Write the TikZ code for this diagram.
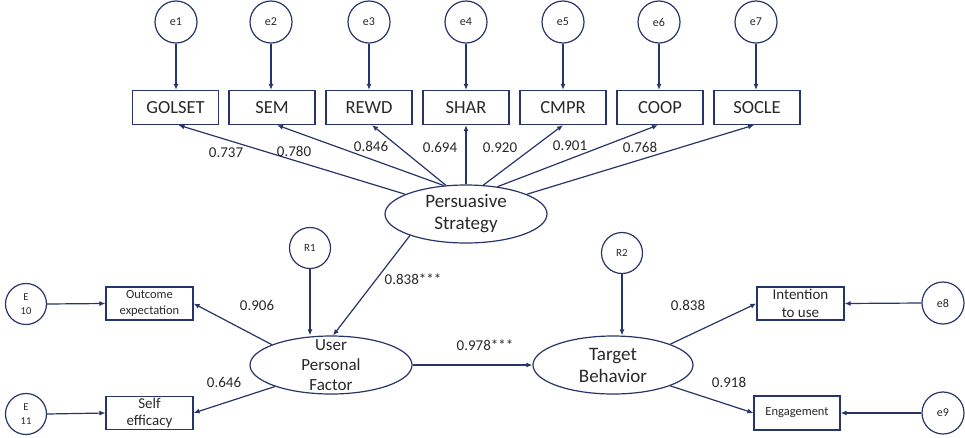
\documentclass[tikz,border=0pt]{standalone}
\usepackage{fontspec}
\setmainfont{Carlito}
\usetikzlibrary{arrows.meta,shapes.geometric}
\definecolor{navy}{RGB}{38,52,105}
\definecolor{txt}{RGB}{40,40,40}
\begin{document}
\begin{tikzpicture}[x=1pt,y=-1pt,
  errc/.style={circle, draw=navy, line width=1.2pt, minimum size=42pt, inner sep=0pt, text=txt, font=\fontsize{12}{14}\selectfont},
  smallc/.style={circle, draw=navy, line width=1.2pt, minimum size=41pt, inner sep=0pt, text=txt, align=center, font=\fontsize{10.5}{14}\selectfont},
  obs/.style={rectangle, draw=navy, line width=1.2pt, minimum width=86pt, minimum height=34pt, inner sep=0pt, text=txt, font=\fontsize{18.5}{20}\selectfont},
  obss/.style={rectangle, draw=navy, line width=1.2pt, minimum width=87pt, minimum height=33pt, inner sep=0pt, text=txt, align=center},
  lat/.style={ellipse, draw=navy, line width=1.2pt, minimum width=162pt, minimum height=58pt, inner sep=0pt},
  lattext/.style={align=center, text=txt, inner sep=0pt},
  arr/.style={-{Latex[length=6pt,width=5pt]}, draw=navy, line width=1.2pt},
  coef/.style={font=\fontsize{15}{17}\selectfont, text=txt, inner sep=0pt}]
\useasboundingbox (0,0) rectangle (965,437);
% top error circles
\node[errc] (e1) at (176,22) {e1};
\node[errc] (e2) at (271,22) {e2};
\node[errc] (e3) at (369,22) {e3};
\node[errc] (e4) at (466,22) {e4};
\node[errc] (e5) at (563,22) {e5};
\node[errc] (e6) at (659,22) {e6};
\node[errc] (e7) at (756,22) {e7};
% observed boxes
\node[obs] (golset) at (175.5,107.5) {GOLSET};
\node[obs] (sem) at (272,107.5) {SEM};
\node[obs] (rewd) at (369,107.5) {REWD};
\node[obs] (shar) at (466,107.5) {SHAR};
\node[obs] (cmpr) at (563,107.5) {CMPR};
\node[obs] (coop) at (660,107.5) {COOP};
\node[obs] (socle) at (757,107.5) {SOCLE};
\foreach \e/\b in {e1/golset,e2/sem,e3/rewd,e4/shar,e5/cmpr,e6/coop,e7/socle}
  \draw[arr] (\e.south) -- (\e.south |- \b.north);
% persuasive strategy
\node[lat] (psy) at (466,214) {};
\node[lattext, font=\fontsize{19}{22}\selectfont] (psyt) at (psy) {Persuasive\\Strategy};
\draw[arr] (psy.162) -- ([xshift=3pt]golset.south);
\draw[arr] (psy.128) -- ([xshift=5pt]sem.south);
\draw[arr] (psy.125) -- ([xshift=3pt]rewd.south);
\draw[arr] (psy.90) -- (shar.south);
\draw[arr] (psy.59) -- (cmpr.south);
\draw[arr] (psy.41) -- ([xshift=-2pt]coop.south);
\draw[arr] (psy.18) -- ([xshift=-3pt]socle.south);
\node[coef] (c1) at (226,153) {0.737};
\node[coef] (c2) at (294,151) {0.780};
\node[coef] (c3) at (371,146) {0.846};
\node[coef] (c4) at (440,147) {0.694};
\node[coef] (c5) at (500,148) {0.920};
\node[coef] (c6) at (570,146) {0.901};
\node[coef] (c7) at (640,147) {0.768};
% user personal factor
\node[lat] (upf) at (331,365) {};
\node[lattext, font=\fontsize{17}{20}\selectfont] (upft) at (upf) {User\\Personal\\Factor};
\node[smallc, font=\fontsize{11}{13}\selectfont] (r1) at (310,248) {R1};
\draw[arr] (r1.south) -- (r1.south |- upf.north);
\draw[arr] (psy.201) -- (upf.86);
\node[coef] (c8) at (413,279) {0.838***};
% outcome / self efficacy
\node[obss, font=\fontsize{12.5}{16}\selectfont] (oe) at (149.5,303.5) {Outcome\\expectation};
\node[obss, font=\fontsize{15}{17}\selectfont] (se) at (149.5,413) {Self\\efficacy};
\node[smallc] (e10) at (26,304) {E\\10};
\node[smallc] (e11) at (26,414) {E\\11};
\draw[arr] (e10.east) -- (oe.west);
\draw[arr] (e11.east) -- (se.west);
\draw[arr] (upf.161) -- (oe.east);
\draw[arr] (upf.201) -- (se.east);
\node[coef] (c9) at (257,305) {0.906};
\node[coef] (c10) at (224,382) {0.646};
% target behavior
\node[lat, minimum width=160pt] (tb) at (613,365) {};
\node[lattext, font=\fontsize{19}{22}\selectfont] (tbt) at (tb) {Target\\Behavior};
\draw[arr] (upf.east) -- (tb.west);
\node[coef] (c11) at (485,345) {0.978***};
\node[smallc, font=\fontsize{11}{13}\selectfont] (r2) at (622,253) {R2};
\draw[arr] (r2.south) -- (r2.south |- tb.north);
% intention / engagement
\node[obss, font=\fontsize{15}{18}\selectfont] (itu) at (800.5,303.5) {Intention\\to use};
\node[obss, minimum width=86pt, minimum height=34pt, font=\fontsize{12.5}{15}\selectfont] (eng) at (797,413) {Engagement};
\node[errc] (e8) at (943,303) {e8};
\node[errc] (e9) at (943,413) {e9};
\draw[arr] (e8.west) -- (itu.east);
\draw[arr] (e9.west) -- (eng.east);
\draw[arr] (tb.20) -- (itu.west);
\draw[arr] (tb.340) -- (eng.west);
\node[coef] (c12) at (688,305) {0.838};
\node[coef] (c13) at (729,382) {0.918};
\end{tikzpicture}
\end{document}
